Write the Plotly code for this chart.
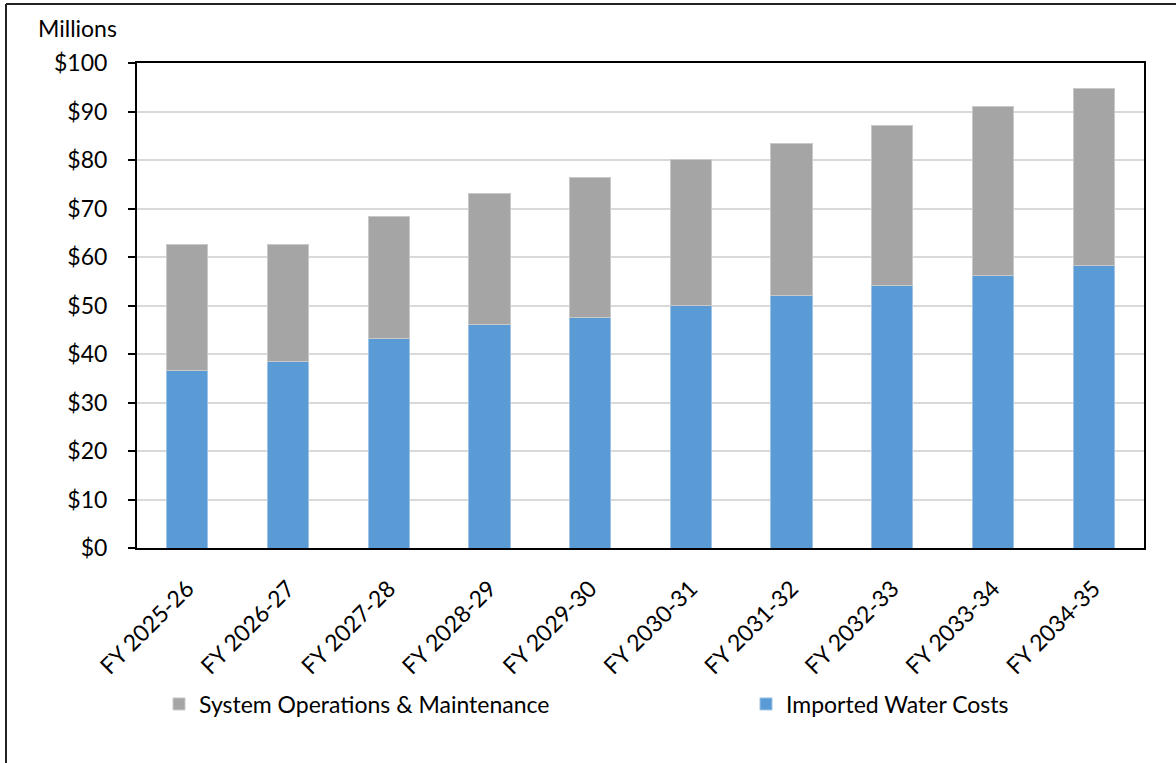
import plotly.graph_objects as go

categories = ["FY 2025-26", "FY 2026-27", "FY 2027-28", "FY 2028-29", "FY 2029-30",
              "FY 2030-31", "FY 2031-32", "FY 2032-33", "FY 2033-34", "FY 2034-35"]
imported_water = [36.5, 38.4, 43.2, 46.1, 47.6, 49.9, 52.0, 54.1, 56.1, 58.2]
total_cost = [62.5, 62.5, 68.4, 73.0, 76.3, 80.1, 83.4, 87.2, 91.0, 94.8]
system_om = [round(t - w, 2) for t, w in zip(total_cost, imported_water)]

y_ticks = list(range(0, 101, 10))
y_tick_labels = [f"${v}" for v in y_ticks]

FONT = "Lato, Carlito, Calibri, sans-serif"
FS = 23

# plot-area geometry in pixels, used to place paper-referenced items
L, R, T, B = 137, 1144, 63, 548
PW, PH = R - L, B - T


def px_x(x):
    return (x - L) / PW


def px_y(y):
    return (B - y) / PH


fig = go.Figure()
fig.add_trace(go.Bar(
    x=categories, y=imported_water, name="Imported Water Costs",
    marker=dict(color="#5B9BD5", line=dict(color="#9DC3E6", width=1)),
    legend="legend2", showlegend=True,
))
fig.add_trace(go.Bar(
    x=categories, y=system_om, name="System Operations & Maintenance",
    marker=dict(color="#A5A5A5", line=dict(color="#C9C9C9", width=1)),
    legend="legend", showlegend=True,
))

legend_font = dict(family=FONT, size=FS, color="black")

fig.update_layout(
    barmode="stack",
    bargap=0.59,
    showlegend=True,
    width=1176, height=763,
    margin=dict(l=L, r=1176 - R, t=T, b=763 - B),
    paper_bgcolor="white", plot_bgcolor="white",
    font=dict(family=FONT, size=FS, color="black"),
    legend=dict(
        visible=True,
        x=px_x(159), xanchor="left", y=px_y(704), yanchor="middle",
        font=legend_font, itemwidth=30, bgcolor="rgba(0,0,0,0)",
    ),
    legend2=dict(
        visible=True,
        x=px_x(746), xanchor="left", y=px_y(704), yanchor="middle",
        font=legend_font, itemwidth=30, bgcolor="rgba(0,0,0,0)",
    ),
    xaxis=dict(
        tickangle=-45, showgrid=False, ticks="",
        showline=True, linecolor="black", linewidth=2, mirror=True,
        tickfont=dict(family=FONT, size=FS), ticklabelstandoff=16,
    ),
    yaxis=dict(
        range=[0, 100], tickvals=y_ticks, ticktext=y_tick_labels,
        ticks="outside", ticklen=7, tickwidth=2, tickcolor="black",
        showgrid=True, gridcolor="#D9D9D9", gridwidth=2,
        showline=True, linecolor="black", linewidth=2, mirror=True,
        tickfont=dict(family=FONT, size=FS), zeroline=False,
        ticklabelstandoff=16,
    ),
    annotations=[dict(
        text="Millions", xref="paper", yref="paper",
        x=px_x(36), y=px_y(28),
        xanchor="left", yanchor="middle", showarrow=False,
        font=dict(family=FONT, size=FS, color="black"),
    )],
    shapes=[
        dict(type="line", xref="paper", yref="paper",
             x0=px_x(6), x1=px_x(1176), y0=px_y(4), y1=px_y(4),
             line=dict(color="#222222", width=2)),
        dict(type="line", xref="paper", yref="paper",
             x0=px_x(6), x1=px_x(6), y0=px_y(4), y1=px_y(763),
             line=dict(color="#222222", width=2)),
    ],
)

fig.write_html("out.html")
